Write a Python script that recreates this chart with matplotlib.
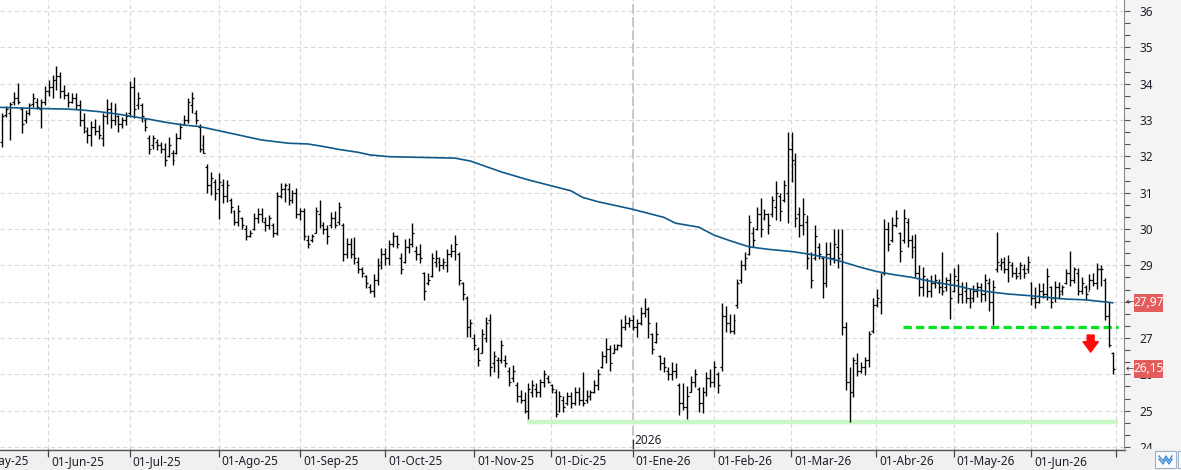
import numpy as np
import matplotlib
matplotlib.use('Agg')
import matplotlib.pyplot as plt
from matplotlib.patches import Rectangle
from matplotlib.lines import Line2D

plt.rcParams['font.family'] = ['Noto Sans', 'DejaVu Sans']
plt.rcParams['lines.scale_dashes'] = False

# ---------------- data (daily OHLC, 15-May-2025 .. 30-Jun-2026) ----------------
highs = [
    # May-25
    33.20, 33.39, 33.50, 33.78, 34.01, 33.37, 33.27, 33.48, 33.75, 33.60, 33.57, 33.94,
    # Jun-25
    34.10, 34.24, 34.49, 34.32, 33.96, 33.78, 33.75, 33.73, 33.55, 33.18, 32.82, 32.97, 33.02, 32.86, 33.18, 33.57, 33.50, 33.46, 33.14, 33.07, 33.23,
    # Jul-25
    34.08, 34.19, 33.77, 33.48, 33.05, 32.59, 32.59, 32.48, 32.40, 32.38, 32.54, 32.17, 32.63, 32.91, 33.14, 33.60, 33.78, 33.27, 32.89, 32.60, 31.79, 31.57, 31.37,
    # Aug-25
    31.53, 31.37, 31.35, 30.84, 30.52, 30.66, 30.34, 30.11, 29.97, 30.45, 30.57, 30.57, 30.34, 30.38, 30.16, 31.03, 31.27, 31.27, 31.26, 31.07, 31.12,
    # Sep-25
    30.57, 30.57, 29.83, 29.86, 30.61, 30.80, 30.20, 30.11, 30.48, 30.50, 30.75, 30.16, 29.74, 29.74, 29.77, 29.22, 28.94, 28.73, 28.49, 28.75, 29.19, 29.49,
    # Oct-25
    29.47, 29.71, 29.93, 29.83, 29.33, 29.72, 29.74, 30.17, 29.53, 29.60, 28.82, 28.78, 29.35, 29.42, 29.22, 29.19, 29.44, 29.58, 29.83, 29.38, 28.55, 28.16, 27.51,
    # Nov-25
    27.11, 26.74, 27.24, 27.59, 27.66, 26.64, 26.47, 26.94, 26.53, 26.19, 26.26, 25.80, 25.57, 25.52, 25.75, 25.84, 25.75, 25.86, 26.12, 25.98,
    # Dec-25
    25.73, 25.59, 25.55, 25.39, 25.52, 25.52, 25.66, 25.66, 26.05, 25.57, 25.57, 25.84, 26.14, 26.65, 26.99, 26.81, 26.83, 26.83, 27.51, 27.63, 27.59,
    # Jan-26
    27.64, 27.51, 27.84, 28.09, 27.84, 27.13, 27.43, 26.53, 26.47, 26.21, 26.35, 26.32, 25.75, 25.75, 25.68, 25.94, 26.14, 25.66, 25.66, 26.07, 26.14,
    # Feb-26
    26.38, 26.05, 27.97, 27.88, 27.66, 27.66, 28.61, 29.15, 29.38, 30.39, 30.05, 30.60, 30.84, 30.54, 30.45, 30.91, 31.33, 31.00, 31.35, 32.68,
    # Mar-26
    32.68, 32.10, 30.60, 30.84, 30.39, 29.38, 30.11, 29.62, 29.24, 29.65, 29.65, 29.99, 29.99, 29.99, 27.45, 26.21, 26.49, 26.58, 26.35, 26.47, 27.20, 28.09,
    # Apr-26
    28.34, 28.78, 30.27, 30.20, 30.34, 30.52, 29.93, 30.54, 30.29, 29.83, 29.85, 29.01, 28.96, 28.64, 28.73, 28.76, 28.61, 29.38, 28.69, 28.78,
    # May-26
    28.92, 29.04, 28.55, 28.55, 28.37, 28.46, 28.55, 28.50, 28.76, 28.64, 28.60, 29.91, 29.19, 29.22, 29.28, 29.10, 28.96, 29.10, 29.05, 29.26,
    # Jun-26
    28.55, 28.41, 28.50, 28.50, 28.92, 28.43, 28.58, 28.55, 28.46, 28.89, 29.40, 28.96, 28.92, 28.67, 28.46, 28.76, 28.80, 29.07, 29.01, 28.64, 28.00, 26.62,
]
lows = [
    32.25, 33.07, 32.45, 33.41, 33.44, 32.65, 32.93, 33.14, 33.37, 33.29, 32.77, 33.41,
    33.66, 33.60, 33.83, 33.60, 33.57, 33.37, 33.46, 33.31, 32.83, 32.65, 32.38, 32.28, 32.58, 32.47, 32.28, 32.88, 32.77, 32.86, 32.67, 32.77, 32.85,
    33.09, 33.05, 33.29, 32.94, 32.71, 32.06, 32.21, 32.17, 32.10, 31.73, 31.99, 31.75, 32.06, 32.47, 32.86, 32.93, 33.18, 32.89, 32.13, 32.08, 30.98, 30.94, 30.80,
    30.27, 30.71, 30.75, 30.43, 30.11, 30.08, 29.99, 29.71, 29.77, 29.97, 30.16, 30.20, 29.95, 29.99, 29.79, 29.83, 30.84, 30.75, 30.66, 30.72, 30.29,
    30.25, 29.71, 29.49, 29.65, 29.88, 30.02, 29.86, 29.60, 30.02, 30.02, 30.11, 29.13, 29.19, 29.19, 29.04, 28.78, 28.67, 28.37, 28.23, 28.12, 28.46, 28.90,
    29.01, 29.01, 29.51, 29.49, 28.76, 29.07, 29.33, 29.51, 29.15, 29.07, 28.05, 28.46, 28.69, 28.96, 28.85, 28.89, 28.82, 29.24, 29.16, 28.46, 28.05, 27.04, 27.02,
    26.67, 26.23, 26.60, 26.90, 25.95, 26.07, 25.89, 26.30, 26.21, 25.69, 25.80, 25.25, 25.20, 24.93, 24.76, 25.38, 25.38, 25.37, 25.66, 25.75,
    25.48, 24.83, 24.97, 24.97, 25.16, 25.06, 25.16, 25.16, 25.13, 25.22, 25.28, 25.48, 25.57, 26.17, 26.30, 26.10, 26.58, 26.67, 26.76, 27.22, 27.31,
    27.22, 27.02, 27.36, 27.59, 26.99, 26.56, 26.87, 26.12, 26.05, 25.84, 25.84, 25.89, 24.88, 25.02, 24.76, 25.50, 25.66, 24.97, 24.94, 25.39, 25.66,
    25.66, 25.48, 26.10, 27.17, 27.13, 27.11, 27.82, 28.52, 28.87, 29.28, 29.51, 29.97, 29.79, 30.25, 29.86, 30.34, 30.25, 30.23, 30.75, 30.16,
    31.30, 30.06, 29.79, 29.83, 28.89, 28.37, 29.15, 29.17, 28.09, 28.41, 29.01, 29.06, 28.92, 27.08, 25.57, 24.70, 25.37, 25.94, 26.03, 25.98, 26.19, 27.13,
    27.84, 27.66, 28.73, 29.40, 29.65, 30.05, 29.10, 29.61, 29.51, 29.19, 28.69, 28.16, 28.16, 28.14, 28.14, 28.37, 28.25, 28.18, 28.28, 27.51,
    28.27, 27.95, 27.95, 27.95, 27.82, 28.00, 28.14, 28.00, 28.03, 27.75, 27.36, 28.82, 28.87, 28.78, 28.55, 28.69, 28.61, 28.61, 28.64, 28.78,
    27.91, 27.82, 27.95, 28.09, 28.05, 27.82, 28.00, 28.06, 28.18, 28.49, 28.43, 28.50, 28.18, 28.21, 28.05, 28.32, 28.43, 28.35, 28.43, 27.49, 26.74, 26.01,
]
opens = [
    32.40, 33.15, 33.20, 33.50, 33.60, 33.30, 33.00, 33.20, 33.45, 33.50, 33.30, 33.50,
    33.80, 33.90, 34.10, 34.20, 33.80, 33.70, 33.50, 33.60, 33.40, 33.00, 32.70, 32.60, 32.80, 32.70, 32.50, 33.10, 33.30, 33.00, 33.10, 32.90, 33.00,
    33.20, 33.90, 33.40, 33.40, 33.00, 32.50, 32.30, 32.40, 32.30, 32.20, 32.00, 32.10, 32.10, 32.50, 32.90, 33.00, 33.40, 33.20, 32.80, 32.30, 31.70, 31.20, 31.30,
    31.10, 31.20, 30.90, 30.80, 30.50, 30.20, 30.30, 30.00, 29.80, 30.00, 30.30, 30.40, 30.20, 30.10, 30.10, 29.90, 30.90, 31.10, 31.10, 30.80, 31.00,
    30.40, 30.50, 29.70, 29.70, 29.90, 30.40, 30.10, 30.00, 30.10, 30.30, 30.20, 30.10, 29.30, 29.60, 29.30, 29.10, 28.90, 28.70, 28.40, 28.30, 28.60, 29.10,
    29.30, 29.20, 29.60, 29.80, 29.20, 29.10, 29.50, 29.60, 29.40, 29.30, 28.80, 28.50, 28.70, 29.10, 29.10, 29.00, 29.00, 29.30, 29.40, 29.30, 28.50, 28.10, 27.30,
    27.00, 26.70, 26.60, 27.00, 27.50, 26.30, 26.40, 26.40, 26.40, 26.10, 25.90, 25.70, 25.40, 25.30, 25.00, 25.50, 25.60, 25.50, 25.80, 25.90,
    25.70, 25.50, 25.00, 25.30, 25.20, 25.40, 25.20, 25.50, 25.30, 25.30, 25.40, 25.50, 25.70, 26.20, 26.50, 26.70, 26.60, 26.70, 26.80, 27.30, 27.40,
    27.50, 27.30, 27.40, 27.70, 27.80, 27.10, 26.90, 26.50, 26.30, 26.10, 26.00, 26.10, 25.70, 25.20, 25.10, 25.50, 25.80, 25.60, 25.20, 25.50, 25.90,
    25.80, 26.00, 26.20, 27.60, 27.40, 27.20, 27.90, 28.60, 29.00, 29.30, 29.90, 30.00, 30.40, 30.30, 30.40, 30.40, 30.60, 30.90, 30.80, 31.00,
    32.20, 31.80, 30.40, 30.10, 30.20, 29.30, 29.20, 29.50, 29.20, 28.50, 29.30, 29.20, 29.50, 29.30, 27.30, 25.80, 25.50, 26.30, 26.10, 26.20, 26.40, 27.20,
    27.90, 28.00, 28.80, 30.00, 29.70, 30.10, 29.90, 29.70, 30.20, 29.70, 29.50, 28.80, 28.40, 28.60, 28.30, 28.50, 28.50, 28.40, 28.40, 28.60,
    28.30, 28.60, 28.20, 28.30, 28.10, 28.10, 28.30, 28.40, 28.20, 28.50, 28.00, 28.90, 29.00, 29.10, 28.90, 29.00, 28.80, 28.80, 28.90, 28.90,
    28.50, 28.10, 28.00, 28.30, 28.20, 28.40, 28.10, 28.40, 28.30, 28.50, 28.80, 28.60, 28.80, 28.30, 28.40, 28.30, 28.60, 28.50, 28.90, 28.60, 27.60, 26.60,
]
closes = [
    33.10, 33.30, 33.45, 33.60, 33.50, 32.90, 33.20, 33.40, 33.60, 33.35, 33.50, 33.80,
    33.90, 34.10, 34.20, 33.80, 33.70, 33.50, 33.60, 33.40, 33.00, 32.80, 32.60, 32.80, 32.70, 32.60, 33.10, 33.30, 33.00, 33.30, 32.90, 33.00, 33.10,
    33.90, 33.30, 33.60, 33.10, 32.80, 32.20, 32.50, 32.30, 32.20, 31.90, 32.30, 31.90, 32.50, 32.80, 33.00, 33.50, 33.60, 33.00, 32.20, 32.10, 31.20, 31.40, 31.00,
    31.30, 30.90, 31.20, 30.60, 30.20, 30.50, 30.10, 29.80, 29.90, 30.30, 30.40, 30.30, 30.10, 30.30, 29.90, 30.90, 31.10, 31.20, 30.80, 31.00, 30.40,
    30.50, 29.80, 29.60, 29.80, 30.50, 30.20, 30.00, 29.80, 30.30, 30.10, 30.60, 29.30, 29.60, 29.30, 29.20, 28.90, 28.80, 28.50, 28.30, 28.60, 29.00, 29.30,
    29.20, 29.60, 29.80, 29.60, 28.90, 29.50, 29.60, 29.90, 29.30, 29.20, 28.30, 28.60, 29.20, 29.20, 29.00, 29.10, 29.30, 29.40, 29.60, 28.60, 28.20, 27.30, 27.40,
    26.80, 26.40, 27.10, 27.40, 26.20, 26.50, 26.10, 26.80, 26.30, 25.80, 26.10, 25.40, 25.30, 25.00, 25.60, 25.70, 25.50, 25.80, 26.00, 25.80,
    25.60, 24.90, 25.40, 25.10, 25.40, 25.20, 25.50, 25.30, 25.20, 25.40, 25.50, 25.70, 26.00, 26.50, 26.70, 26.30, 26.70, 26.80, 27.30, 27.40, 27.50,
    27.30, 27.40, 27.70, 27.80, 27.40, 26.70, 27.10, 26.30, 26.20, 26.00, 26.10, 26.00, 25.20, 25.10, 25.40, 25.80, 26.00, 25.20, 25.50, 25.90, 25.80,
    26.20, 25.70, 27.60, 27.40, 27.20, 27.50, 28.50, 29.00, 29.20, 30.20, 29.70, 30.40, 30.00, 30.40, 30.10, 30.80, 31.00, 30.50, 31.20, 32.20,
    31.90, 30.30, 30.10, 30.40, 29.20, 28.60, 29.80, 29.30, 28.50, 29.30, 29.20, 29.60, 29.20, 27.30, 25.80, 25.50, 26.40, 26.10, 26.20, 26.40, 27.10, 27.90,
    28.10, 28.70, 30.00, 29.60, 30.10, 30.30, 29.40, 30.30, 29.70, 29.40, 28.80, 28.40, 28.70, 28.30, 28.50, 28.60, 28.40, 28.30, 28.60, 28.10,
    28.70, 28.20, 28.40, 28.10, 28.00, 28.30, 28.40, 28.20, 28.60, 28.00, 28.40, 29.10, 29.10, 28.90, 29.10, 28.80, 28.70, 29.00, 28.80, 29.10,
    28.10, 28.00, 28.30, 28.20, 28.70, 28.00, 28.40, 28.20, 28.40, 28.80, 28.60, 28.90, 28.30, 28.50, 28.20, 28.60, 28.50, 28.90, 28.90, 27.60, 26.80, 26.15,
]

# moving average (read at selected bars)
ma_idx = [-1, 8, 17, 21, 25, 30, 34, 38, 42, 47, 51, 67, 74, 79, 83, 87, 92, 95, 100,
          117, 121, 129, 136, 147, 150, 154, 163, 171, 174, 180, 184, 188, 193, 198,
          204, 209, 213, 217, 222, 226, 230, 235, 239, 243, 247, 250, 255, 260, 266,
          271, 275, 280, 287]
ma_val = [33.35, 33.32, 33.30, 33.27, 33.23, 33.16, 33.09, 33.02, 32.94, 32.86, 32.82, 32.45,
          32.36, 32.34, 32.27, 32.19, 32.11, 32.04, 31.99, 31.95, 31.87, 31.57, 31.35,
          31.05, 30.87, 30.75, 30.54, 30.32, 30.16, 30.05, 29.83, 29.68, 29.51, 29.44,
          29.38, 29.30, 29.21, 29.10, 28.94, 28.83, 28.75, 28.67, 28.58, 28.50, 28.43,
          28.35, 28.27, 28.21, 28.16, 28.11, 28.07, 28.05, 27.97]

month_labels = ['01-May-25', '01-Jun-25', '01-Jul-25', '01-Ago-25', '01-Sep-25', '01-Oct-25',
                '01-Nov-25', '01-Dic-25', '01-Ene-26', '01-Feb-26', '01-Mar-26', '01-Abr-26',
                '01-May-26', '01-Jun-26', '']
month_starts = [-9, 12, 33, 56, 77, 99, 122, 142, 163, 184, 204, 226, 246, 266, 288]
year_label = '2026'
year_start = 163

support_level = 24.68
support_from = 135.6
resist_level = 27.31
resist_from = 232.8
signal_idx, signal_top, signal_bottom = 281.3, 27.08, 26.61

# ---------------- layout ----------------
W, H = 1181, 470
AX_R, AX_B = 1124, 449
PPB, X0 = 3.869, 2.3

fig = plt.figure(figsize=(W / 100, H / 100), dpi=100, facecolor='#f4f4f4')
ax = fig.add_axes([0, (H - AX_B) / H, AX_R / W, AX_B / H])
ax.set_facecolor('white')

for s in ['top', 'left', 'bottom']:
    ax.spines[s].set_visible(False)
ax.spines['right'].set_color('#8a8a8a')
ax.spines['right'].set_linewidth(0.8)

ax.yaxis.tick_right()
ax.set_yticks(np.arange(24, 37, 1))
ax.set_yticklabels([str(v) for v in range(24, 37)])
ax.set_yticks(np.arange(23 + 2 / 3, 36.4, 1 / 3), minor=True)
ax.tick_params(axis='y', which='both', length=4, width=0.8, color='#555555',
               pad=7, labelsize=8.5, labelcolor='#1e1e2a')
ax.tick_params(axis='y', which='minor', labelright=False)
ax.set_xticks([])

# limits (after ticks, so ticks cannot widen them)
ax.set_ylim(23.944, 36.303)
xl = ((0 - X0) / PPB, (AX_R - X0) / PPB)
ax.set_xlim(*xl)

# grid
for v in range(24, 37):
    ax.axhline(v, color='#d9d9d9', lw=0.8, dashes=(3.0, 2.2), zorder=0)
xt = [m - 0.1 for m in month_starts]
for m in xt[1:]:
    ax.axvline(m, color='#d9d9d9', lw=0.8, dashes=(3.0, 2.2), zorder=0)
yx = year_start - 0.1
ax.axvline(yx, color='#c4c4c4', lw=1.3, dashes=(7.0, 2.5), zorder=0)

# support / resistance
ax.hlines(support_level, support_from, xl[1] - 1.6, color='#c9f7c6', lw=3.2, zorder=1)
ax.plot([resist_from, xl[1] - 1.6], [resist_level, resist_level], color='#00e61e',
        lw=2.3, dashes=(6.0, 3.0), zorder=2, solid_capstyle='butt', dash_capstyle='butt')

# OHLC bars
x = np.arange(len(highs))
ax.vlines(x, lows, highs, color='black', lw=1.0, zorder=4)
ax.hlines(opens, x - 0.5, x, color='black', lw=0.9, zorder=4)
ax.hlines(closes, x, x + 0.5, color='black', lw=0.9, zorder=4)

# moving average
ax.plot(ma_idx, ma_val, color='#0f5a8a', lw=1.2, zorder=5)

# signal arrow
ax.annotate('', xy=(signal_idx, signal_bottom), xytext=(signal_idx, signal_top),
            arrowprops=dict(arrowstyle='simple,head_length=0.75,head_width=1.1,tail_width=0.5',
                            color='#ff0a0a', shrinkA=0, shrinkB=0, mutation_scale=10), zorder=6)

# year marker
ax.plot([yx, yx], [0, 9 / AX_B], color='#333333', lw=0.9, transform=ax.get_xaxis_transform(),
        clip_on=False, zorder=6)
ax.text(yx + 0.5, 8.5 / AX_B, year_label, transform=ax.get_xaxis_transform(), fontsize=8.5,
        ha='left', va='center', color='#1e1e2a', zorder=6)

# bottom date strip
axb = fig.add_axes([0, 0, 1, (H - AX_B) / H], zorder=3)
axb.set_facecolor('#f0f0f0')
axb.set_xlim((0 - X0) / PPB, (W - X0) / PPB)
axb.set_ylim(0, 1)
for s in axb.spines.values():
    s.set_visible(False)
axb.set_xticks([])
axb.set_yticks([])
hb = H - AX_B
for m, lab in zip(xt, month_labels):
    axb.vlines(m, 1 - 8 / hb, 1, color='#444444', lw=0.9)
    if lab:
        axb.text(m + 0.8, 0.40, lab, fontsize=8.5, ha='left', va='center', color='#1e1e2a',
                 clip_on=True)
fig.add_artist(Line2D([0, (AX_R + 0.5) / W], [(hb - 0.5) / H] * 2, color='#555555', lw=1.0,
                      zorder=10))

# right-side value labels
fig.canvas.draw()
inv = fig.transFigure.inverted()
for val in [ma_val[-1], closes[-1]]:
    ypix = ax.transData.transform((0, val))[1]
    fx0, fy0 = inv.transform((1134, ypix - 9))
    fx1, fy1 = inv.transform((1163, ypix + 9))
    fig.add_artist(Rectangle((fx0, fy0), fx1 - fx0, fy1 - fy0, transform=fig.transFigure,
                             facecolor='#e35d5d', edgecolor='none', zorder=20))
    tx, ty = inv.transform((1148.5, ypix))
    fig.text(tx, ty, f'{val:.2f}'.replace('.', ','), color='white', fontsize=8.5,
             ha='center', va='center', zorder=21)
    ax_, ay_ = inv.transform((1129.5, ypix))
    fig.text(ax_, ay_, '\u2190', color='#444444', fontsize=7, ha='center', va='center',
             family='DejaVu Sans', zorder=21)

# bottom-right icon
def px_rect(x0, y0, x1, y1, **kw):
    a = inv.transform((x0, H - y1))
    b = inv.transform((x1, H - y0))
    fig.add_artist(Rectangle(a, b[0] - a[0], b[1] - a[1], transform=fig.transFigure, **kw))

px_rect(1155, 451, 1176, 468, facecolor='#fafafa', edgecolor='#9fb3c8', lw=0.8, zorder=20)
px_rect(1178, 451, 1185, 468, facecolor='#fafafa', edgecolor='#9fb3c8', lw=0.8, zorder=20)
zx = [1159, 1163, 1166, 1169, 1172]
zy = [456, 461, 456, 461, 456]
pts = [inv.transform((a, H - b)) for a, b in zip(zx, zy)]
fig.add_artist(Line2D([p[0] for p in pts], [p[1] for p in pts], color='#3f8fd8', lw=1.0, zorder=21))
pts = [inv.transform((a, H - b - 3)) for a, b in zip(zx, zy)]
fig.add_artist(Line2D([p[0] for p in pts], [p[1] for p in pts], color='#3f8fd8', lw=1.0, zorder=21))

fig.savefig('out.png', dpi=100, facecolor=fig.get_facecolor())
